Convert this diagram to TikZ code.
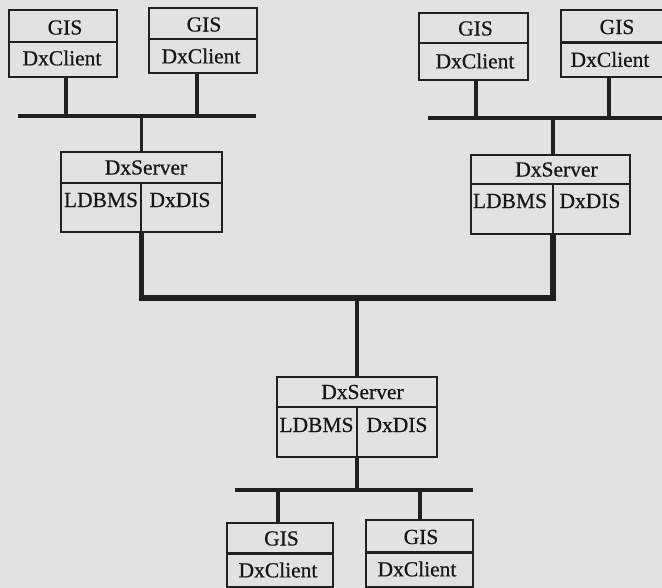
\documentclass[tikz,border=0pt]{standalone}
\usepackage{fontspec}
\setmainfont{Liberation Serif}
\newfontfamily\labelfont{Liberation Serif}[FakeBold=0.6]
\definecolor{paper}{RGB}{226,226,226}
\definecolor{inkc}{RGB}{32,32,32}
\definecolor{textc}{RGB}{22,22,22}
\begin{document}
\begin{tikzpicture}[x=1pt,y=-1pt,
  box/.style={draw=inkc, line width=2.6pt, rectangle, inner sep=0pt},
  lbl/.style={text=textc, inner sep=0pt, font=\labelfont\fontsize{21.5}{21.5}\selectfont},
  part/.style={draw=inkc, line width=2.4pt},
  lan/.style={draw=inkc, line width=3.2pt},
  drop/.style={draw=inkc, line width=3.2pt},
  backbone/.style={draw=inkc, line width=5.5pt, line join=miter},
]
\fill[paper] (0,0) rectangle (662,588);
\useasboundingbox (0,0) rectangle (662,588);

% ---------- top-left site ----------
\node[box, minimum width=108, minimum height=67] (cA) at (63,43.5) {};
\draw[part] (9,42) -- (117,42);
\node[lbl] (cAgis) at (65,27.5) {GIS};
\node[lbl] (cAdx)  at (62,58) {DxClient};

\node[box, minimum width=108, minimum height=65] (cB) at (203,40.5) {};
\draw[part] (149,39) -- (257,39);
\node[lbl] (cBgis) at (204,24.5) {GIS};
\node[lbl] (cBdx)  at (201,56) {DxClient};

\node[box, minimum width=161, minimum height=80] (sL) at (141.5,192) {};
\draw[part] (61,183) -- (222,183);
\draw[part] (141,183) -- (141,232);
\node[lbl] (sLsrv) at (146,167.5) {DxServer};
\node[lbl] (sLdb)  at (101,200) {LDBMS};
\node[lbl] (sLdis) at (180,200) {DxDIS};

\coordinate (lanL1) at (18,116);
\coordinate (lanL2) at (256,116);
\draw[lan] (lanL1) -- (lanL2);
\draw[drop] ([xshift=3]cA.south) -- ([xshift=3]cA.south |- lanL1);
\draw[drop] ([xshift=-6]cB.south) -- ([xshift=-6]cB.south |- lanL1);
\draw[drop] (sL.north) -- (sL.north |- lanL1);

% ---------- top-right site ----------
\node[box, minimum width=109, minimum height=67] (cC) at (473.5,46.5) {};
\draw[part] (419,43) -- (528,43);
\node[lbl] (cCgis) at (475.5,28.5) {GIS};
\node[lbl] (cCdx)  at (475,61) {DxClient};

\node[box, minimum width=108, minimum height=67] (cD) at (615,43.5) {};
\draw[part] (561,42.5) -- (669,42.5);
\node[lbl] (cDgis) at (617,27) {GIS};
\node[lbl] (cDdx)  at (610,59.5) {DxClient};

\node[box, minimum width=159, minimum height=79] (sR) at (550.5,194.5) {};
\draw[part] (471,184) -- (630,184);
\draw[part] (553,184) -- (553,234);
\node[lbl] (sRsrv) at (556.5,169.5) {DxServer};
\node[lbl] (sRdb)  at (510,201) {LDBMS};
\node[lbl] (sRdis) at (590,201) {DxDIS};

\coordinate (lanR1) at (428,118);
\coordinate (lanR2) at (668,118);
\draw[lan] (lanR1) -- (lanR2);
\draw[drop] ([xshift=2.5]cC.south) -- ([xshift=2.5]cC.south |- lanR1);
\draw[drop] ([xshift=-6]cD.south) -- ([xshift=-6]cD.south |- lanR1);
\draw[drop] ([xshift=2.5]sR.north) -- ([xshift=2.5]sR.north |- lanR1);

% ---------- backbone between servers ----------
\coordinate (bbY) at (0,298);
\draw[backbone] (sL.south) |- ([xshift=2.5]sR.south |- bbY) -- ([xshift=2.5]sR.south);

% ---------- bottom site ----------
\node[box, minimum width=160, minimum height=80] (sB) at (357,417) {};
\draw[part] (277,407) -- (437,407);
\draw[part] (357,407) -- (357,457);
\node[lbl] (sBsrv) at (362.5,392) {DxServer};
\node[lbl] (sBdb)  at (316.5,425) {LDBMS};
\node[lbl] (sBdis) at (397,425) {DxDIS};
\draw[drop, line width=4.2pt] (sB.north) -- (sB.north |- bbY);

\node[box, minimum width=106, minimum height=64] (cE) at (280,555) {};
\draw[part] (227,553.5) -- (333,553.5);
\node[lbl] (cEgis) at (281.5,538.5) {GIS};
\node[lbl] (cEdx)  at (278,570) {DxClient};

\node[box, minimum width=107, minimum height=67] (cF) at (419.5,553.5) {};
\draw[part] (366,552.5) -- (473,552.5);
\node[lbl] (cFgis) at (421,537) {GIS};
\node[lbl] (cFdx)  at (417,569) {DxClient};

\coordinate (lanB1) at (235,490);
\coordinate (lanB2) at (473,490);
\draw[lan] (lanB1) -- (lanB2);
\draw[drop] (sB.south) -- (sB.south |- lanB1);
\draw[drop] ([xshift=-2]cE.north) -- ([xshift=-2]cE.north |- lanB1);
\draw[drop] ([xshift=0.5]cF.north) -- ([xshift=0.5]cF.north |- lanB1);
\end{tikzpicture}
\end{document}
